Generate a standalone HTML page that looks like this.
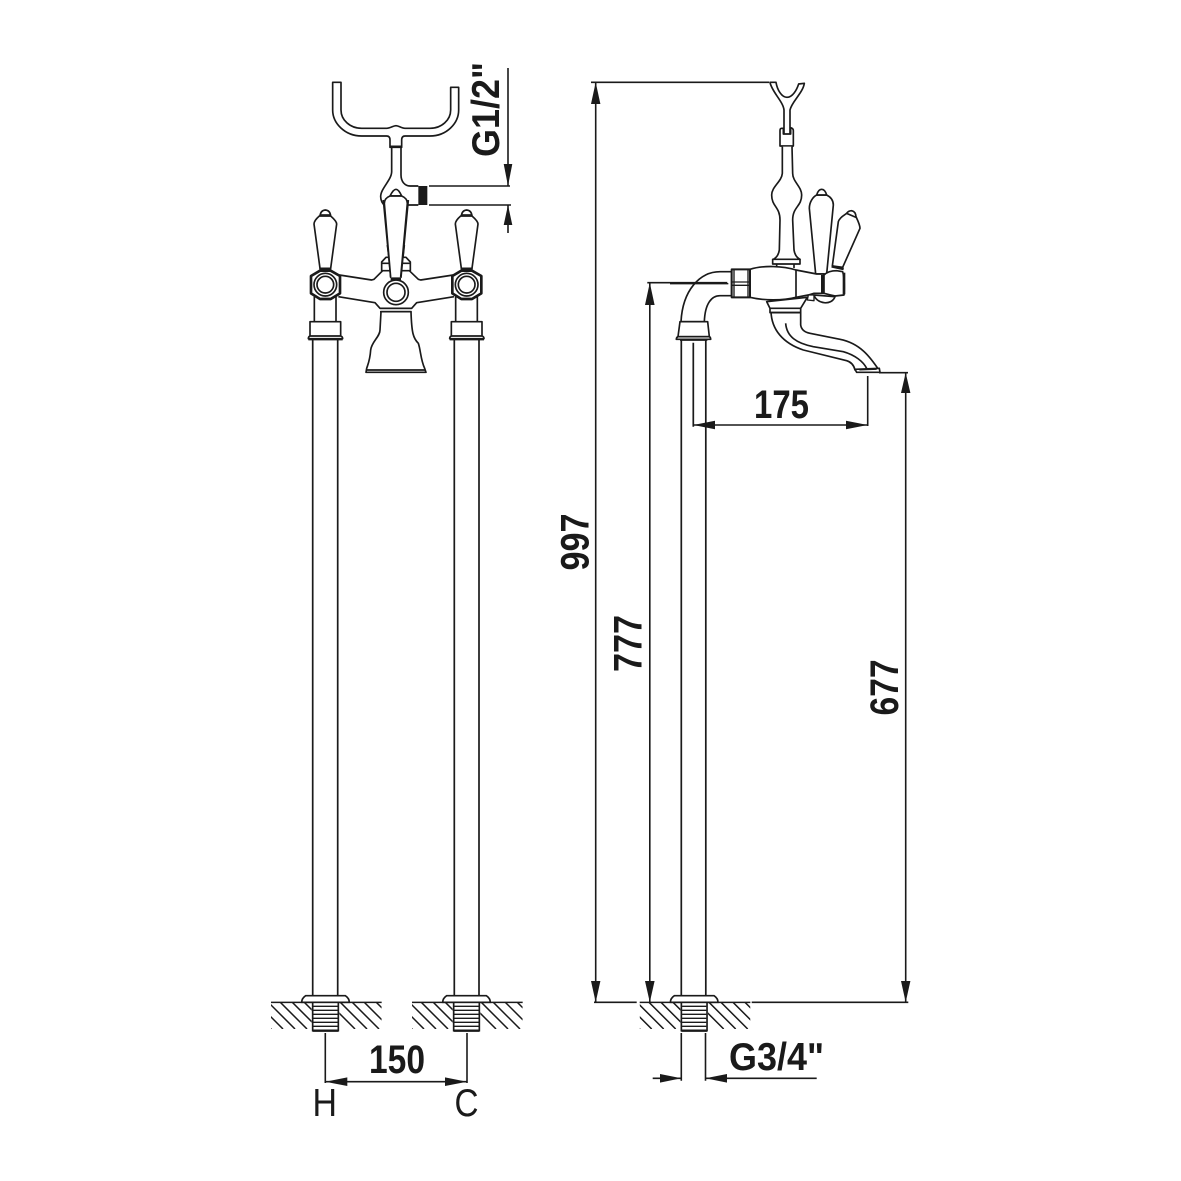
<!DOCTYPE html>
<html><head><meta charset="utf-8"><style>
html,body{margin:0;padding:0;background:#fff}
svg{display:block}
text{font-family:"Liberation Sans",sans-serif;fill:#1a1a1a}
.b{font-weight:bold}
</style></head><body>
<svg width="1181" height="1181" viewBox="0 0 1181 1181" xmlns="http://www.w3.org/2000/svg">
<rect width="1181" height="1181" fill="#fff"/>
<defs>
<clipPath id="hc"><rect x="33" y="97" width="122" height="80"/><rect x="238" y="97" width="127" height="80"/></clipPath>
<g id="base" fill="none" stroke="#1a1a1a" stroke-width="4.5">
<path d="M33,97H365"/>
<g clip-path="url(#hc)" stroke-width="4.5">
<path d="M-11,97l80,80M25,97l80,80M61,97l80,80M97,97l80,80M133,97l80,80M205,97l80,80M241,97l80,80M277,97l80,80M313,97l80,80M349,97l80,80M-11,133l80,80"/>
</g>
<path d="M125,97Q125,85 137,77H256Q268,85 268,97H125Z" fill="#fff" stroke-width="5"/>
<rect x="158" y="97" width="77" height="85" fill="#fff" stroke-width="5"/>
<path d="M160,109H233M160,121H233M160,133H233M160,145H233M160,157H233M160,169H233" stroke-width="4"/>
<path d="M158,182H235" stroke-width="7"/>
</g>
<g id="h5" fill="#fff" stroke="#1a1a1a" stroke-width="5" stroke-linejoin="round">
<path d="M43,290V365M108,290V365" fill="none"/>
<path d="M30,408V365H122V408"/>
<path d="M30,408H122Q128,410 128,416H25Q25,410 30,408Z" stroke-width="5"/>
<path d="M25,418H128" stroke-width="6"/>
<path d="M60,48Q62,31 76,30Q90,31 92,48Z"/>
<path d="M62,44H90" fill="none" stroke-width="3"/>
<path d="M58,48C50,55 42,65 42,72L60,205H92L110,72C110,65 100,55 92,48Z"/>
<path d="M58,208H94" fill="none" stroke-width="8"/>
<path d="M33,228L60,212H92L120,228V280L92,297H60L33,280Z" stroke-width="8"/>
<circle cx="76" cy="254" r="34" stroke-width="5"/>
<circle cx="76" cy="254" r="25" stroke-width="5"/>
</g>
</defs>

<!-- Front view, pipes -->
<g fill="none" stroke="#1a1a1a" stroke-width="1.7">
<path d="M312.7,339V997M337.7,339V997M454.3,339V997M479,339V997"/>
</g>

<!-- Front view, zoom 1 coords -->
<g transform="translate(290,60) scale(.33333)" fill="#fff" stroke="#1a1a1a" stroke-width="5" stroke-linejoin="round">
<path d="M128,67H153V150C153,180 180,205 215,205H290C300,205 310,197 318,197C326,197 335,205 345,205H420C455,205 482,180 482,150V82H506V150C506,190 470,228 420,228H345Q335,228 335,240V262H300V240Q300,228 290,228H215C165,228 128,190 128,150Z"/>
<path d="M300,260H335" fill="none" stroke-width="7"/>
<path d="M305,262V335C305,360 272,385 272,410C272,422 278,432 284,436M333,262V345C333,365 345,378 360,378H385M352,435H385" fill="none"/>
<rect x="385" y="378" width="27" height="57" fill="#1a1a1a" stroke="none"/>
</g>

<!-- Front view, zoom 5 coords -->
<g transform="translate(300,200) scale(.33333)" fill="#fff" stroke="#1a1a1a" stroke-width="5" stroke-linejoin="round">
<path d="M118,225L215,240L222,238L248,212M328,212L355,238L362,240L460,225M115,290L225,308L240,325H335L350,308L462,290" fill="none"/>
<path d="M245,212V186L258,172H272V212ZM331,212V186L318,172H304V212Z"/>
<path d="M245,190H272M304,190H331" fill="none"/>
<path d="M243,335L240,390C240,410 215,425 212,450C210,480 205,490 200,505L198,517H378L374,505C362,480 362,450 355,430C340,415 335,400 333,335Z"/>
<path d="M240,325H335M240,335H335" fill="none"/>
<path d="M200,510H376" fill="none" stroke-width="5"/>
<path d="M200,517H378" fill="none" stroke-width="4"/>
<path d="M250,0L272,232H303L325,0"/>
<path d="M262,135L267,172M313,135L309,172" fill="none"/>
<path d="M272,236H303" fill="none" stroke-width="8"/>
<circle cx="288" cy="277" r="37"/>
<circle cx="288" cy="277" r="27"/>
<use href="#h5"/>
<use href="#h5" x="424"/>
</g>
<g transform="translate(290,60) scale(.33333)" fill="#fff" stroke="#1a1a1a" stroke-width="5" stroke-linejoin="round">
<path d="M300,408Q310,388 318,388Q326,388 335,408Z"/>
<path d="M302,652L283,430C283,420 290,412 300,408H335C345,412 352,420 352,430L332,652Z" stroke="none"/>
<path d="M302,652L283,430C283,420 290,412 300,408H335C345,412 352,420 352,430L332,652" fill="none"/>
</g>

<!-- Side view pipes -->
<g fill="none" stroke="#1a1a1a" stroke-width="1.7">
<path d="M681.3,339V997M705.8,339V997"/>
<path d="M693.3,342.7V426.7"/>
</g>

<!-- Side view, zoom 2 coords -->
<g transform="translate(640,60) scale(.33333)" fill="#fff" stroke="#1a1a1a" stroke-width="5" stroke-linejoin="round">
<path d="M390,67H408C412,90 425,112 441,112C458,112 470,90 476,72L493,70C488,100 455,125 450,150V225H432V150C430,125 395,95 390,67Z"/>
<path d="M425,205Q420,205 420,212V258H460V212Q460,205 452,203V222H430V205Z"/>
<path d="M427,260H458" fill="none" stroke-width="6"/>
<path d="M427,260V340C425,365 395,380 395,405C395,440 420,440 420,480L418,570Q415,590 400,598H480Q465,590 462,570L458,480C458,440 485,440 485,405C485,380 458,365 458,340L456,260"/>
</g>
<g transform="translate(670,180) scale(.33333)" fill="#fff" stroke="#1a1a1a" stroke-width="5" stroke-linejoin="round">
<path d="M308,238H390V252H308Z"/>
<path d="M320,252V262M372,252V264" fill="none"/>
<!-- handles -->
<path d="M437,282L418,85C418,65 430,50 440,45H470C480,50 490,60 490,75L470,282Z"/>
<path d="M440,45Q445,28 455,28Q465,28 470,45Z"/>
<path d="M487,258L505,125C510,110 525,105 530,100L558,110C565,125 570,135 570,145L518,262Z"/>
<path d="M530,100Q535,92 545,92Q558,95 558,112Z"/>
<path d="M485,259L521,267" fill="none" stroke-width="8"/>
<!-- spout -->
<path d="M303,395C305,450 340,490 400,510L530,542Q550,548 555,570L628,572C600,530 570,490 510,478L420,460Q395,455 392,435V395Z"/>
<path d="M347,430C350,470 380,490 430,500L520,515C555,525 580,545 590,565" fill="none"/>
<path d="M555,568L628,565L630,577H560Z"/>
<path d="M568,570L620,568" fill="none" stroke-width="3"/>
<path d="M290,365L300,385V398H392V385L412,352Z"/>
<path d="M300,385H392" fill="none"/>
<path d="M300,397H392" fill="none" stroke-width="4"/>
<!-- elbow -->
<path d="M185,275H150C90,275 38,330 33,425H103C105,370 125,347 150,347H185Z"/>
<path d="M30,425H113L118,470H24Z"/>
<path d="M24,470H118Q122,472 122,478H19Q19,472 24,470Z"/>
<path d="M30,480H112" fill="none" stroke-width="5"/>
<path d="M0,311H175" fill="none" stroke-width="4"/>
<!-- body -->
<path d="M240,268C280,255 340,258 378,270L440,282H462V340H432L415,345L378,352C340,362 280,362 240,352Z"/>
<path d="M378,270V352" fill="none"/>
<path d="M415,345L412,360L432,362V345Z" stroke-width="4"/>
<path d="M432,345C440,372 485,378 495,350Z"/>
<path d="M462,285Q475,272 500,272L518,275Q525,300 522,345L495,348Q480,345 462,340Z"/>
<path d="M457,285V340" fill="none" stroke-width="8"/>
<path d="M522,278V343" fill="none" stroke-width="8"/>
<!-- nut -->
<rect x="185" y="268" width="55" height="84" stroke-width="6"/>
<path d="M192,270V350M234,270V350" fill="none" stroke-width="4"/>
<path d="M186,306H240M186,316H240" fill="none" stroke-width="4"/>
</g>

<!-- Ground -->
<g transform="translate(260,970) scale(.33333)"><use href="#base"/></g>
<g transform="translate(401,970) scale(.33333)"><use href="#base"/></g>
<g transform="translate(628.7,970) scale(.33333)"><use href="#base"/></g>

<!-- Dimensions lines -->
<g fill="none" stroke="#1a1a1a" stroke-width="1.6">
<path d="M508,68V186M429,186H510M429,205H511M508,205V233"/>
<path d="M595.7,82.3V1002.3M591,82.3H769M594,1002.3H636.7M751.7,1002.3H908.3"/>
<path d="M649.8,282.7V1002.3M647.3,282.7H727.3"/>
<path d="M905.7,372.7V1002.3M879,372.7H908"/>
<path d="M693.3,425H867.7M867.7,376V426"/>
<path d="M325.3,1033V1083M467,1033V1083M325.3,1081.7H467"/>
<path d="M681.3,1033V1080.7M705.5,1033V1080.7M652.7,1078.3H681.3M705.5,1078.3H816.7"/>
</g>
<g fill="#1a1a1a">
<path d="M508,186L503.7,164H512.3Z"/>
<path d="M508,205L503.7,225H512.3Z"/>
<path d="M595.7,82.3L591,104H600.4Z"/>
<path d="M595.7,1002.3L591,981H600.4Z"/>
<path d="M649.8,282.7L645,305H654.6Z"/>
<path d="M649.8,1002.3L645,981H654.6Z"/>
<path d="M905.7,372.7L901,393H910.4Z"/>
<path d="M905.7,1002.3L901,981H910.4Z"/>
<path d="M693.3,425L715,420.7V429.3Z"/>
<path d="M867.7,425L846,420.7V429.3Z"/>
<path d="M325.3,1081.7L347.3,1077.4V1086Z"/>
<path d="M467,1081.7L445,1077.4V1086Z"/>
<path d="M681.3,1078.3L660,1074V1082.6Z"/>
<path d="M705.5,1078.3L727,1074V1082.6Z"/>
</g>

<!-- Labels -->
<text class="b" transform="translate(499,157) rotate(-90)" font-size="38.5" textLength="95" lengthAdjust="spacingAndGlyphs">G1/2"</text>
<text class="b" transform="translate(588.3,570.5) rotate(-90)" font-size="40" textLength="57" lengthAdjust="spacingAndGlyphs">997</text>
<text class="b" transform="translate(641.5,672) rotate(-90)" font-size="40" textLength="57" lengthAdjust="spacingAndGlyphs">777</text>
<text class="b" transform="translate(898,715.5) rotate(-90)" font-size="40" textLength="56" lengthAdjust="spacingAndGlyphs">677</text>
<text class="b" x="754" y="418" font-size="40" textLength="55" lengthAdjust="spacingAndGlyphs">175</text>
<text class="b" x="369" y="1073" font-size="40" textLength="56" lengthAdjust="spacingAndGlyphs">150</text>
<text class="b" x="729" y="1070" font-size="38.5" textLength="95" lengthAdjust="spacingAndGlyphs">G3/4"</text>
<text x="312.5" y="1116" font-size="38.5" textLength="24.5" lengthAdjust="spacingAndGlyphs">H</text>
<text x="454.5" y="1116" font-size="38.5" textLength="24" lengthAdjust="spacingAndGlyphs">C</text>
</svg>
</body></html>
